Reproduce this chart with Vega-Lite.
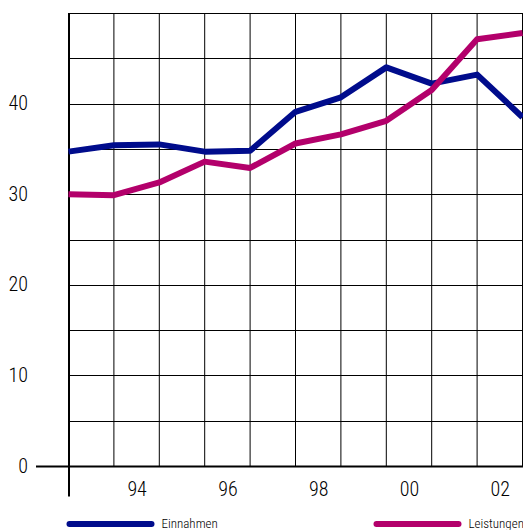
{
  "$schema": "https://vega.github.io/schema/vega-lite/v6.json",
  "width": 454,
  "height": 483,
  "autosize": {"type": "none"},
  "padding": {"left": 68.5, "top": 13, "right": 0, "bottom": 34},
  "background": "white",
  "config": {
    "view": {"stroke": null},
    "font": "Roboto Condensed, Liberation Sans Narrow, Liberation Sans, sans-serif",
    "axis": {"labelFontWeight": 300},
    "legend": {"labelFontWeight": 300}
  },
  "data": {
    "values": [
      {"Jahr": 1993, "Einnahmen": 34.7, "Leistungen": 30.0},
      {"Jahr": 1994, "Einnahmen": 35.4, "Leistungen": 29.9},
      {"Jahr": 1995, "Einnahmen": 35.5, "Leistungen": 31.3},
      {"Jahr": 1996, "Einnahmen": 34.7, "Leistungen": 33.6},
      {"Jahr": 1997, "Einnahmen": 34.8, "Leistungen": 32.9},
      {"Jahr": 1998, "Einnahmen": 39.1, "Leistungen": 35.6},
      {"Jahr": 1999, "Einnahmen": 40.7, "Leistungen": 36.6},
      {"Jahr": 2000, "Einnahmen": 44.0, "Leistungen": 38.1},
      {"Jahr": 2001, "Einnahmen": 42.2, "Leistungen": 41.5},
      {"Jahr": 2002, "Einnahmen": 43.2, "Leistungen": 47.1},
      {"Jahr": 2003, "Einnahmen": 38.5, "Leistungen": 47.8}
    ]
  },
  "encoding": {
    "x": {
      "field": "Jahr",
      "type": "quantitative",
      "scale": {"domain": [1993, 2003], "nice": false, "zero": false},
      "axis": {
        "title": null,
        "values": [1994.5, 1996.5, 1998.5, 2000.5, 2002.5],
        "labelExpr": "substring(toString(floor(datum.value)), 2)",
        "domain": false,
        "ticks": false,
        "grid": false,
        "offset": -30,
        "labelPadding": 13,
        "labelFontSize": 20,
        "labelColor": "black"
      }
    }
  },
  "layer": [
    {
      "mark": {"type": "rule", "color": "black", "strokeWidth": 1},
      "encoding": {
        "y": {"datum": 0, "type": "quantitative"},
        "y2": {"datum": 50}
      }
    },
    {
      "transform": [{"fold": ["Einnahmen", "Leistungen"], "as": ["Reihe", "Wert"]}],
      "mark": {"type": "line", "strokeWidth": 6, "strokeJoin": "round"},
      "encoding": {
        "y": {
          "field": "Wert",
          "type": "quantitative",
          "scale": {"domain": [-3.3, 50], "nice": false, "zero": false},
          "axis": {
            "title": null,
            "values": [0, 5, 10, 15, 20, 25, 30, 35, 40, 45, 50],
            "labelExpr": "datum.value % 10 == 0 && datum.value < 50 ? datum.label : ''",
            "domainColor": "black",
            "domainWidth": 2,
            "ticks": true,
            "tickSize": 33,
            "tickWidth": 2,
            "tickColor": {"condition": {"test": "datum.value == 0", "value": "black"}, "value": "transparent"},
            "labelPadding": 8,
            "labelFontSize": 20,
            "labelColor": "black",
            "grid": true,
            "gridColor": "black",
            "gridOpacity": 1,
            "gridWidth": {"condition": {"test": "datum.value == 0", "value": 2}, "value": 1}
          }
        },
        "color": {
          "field": "Reihe",
          "type": "nominal",
          "scale": {"domain": ["Einnahmen", "Leistungen"], "range": ["#000c8c", "#b3006b"]},
          "legend": {
            "orient": "none",
            "legendX": -2,
            "legendY": 467,
            "direction": "horizontal",
            "title": null,
            "symbolType": "stroke",
            "symbolSize": 6724,
            "symbolStrokeWidth": 6,
            "labelFontSize": 13,
            "labelColor": "black",
            "labelOffset": 7,
            "columnPadding": 146,
            "padding": 0,
            "encode": {"symbols": {"update": {"strokeCap": {"value": "round"}}}}
          }
        }
      }
    }
  ]
}
